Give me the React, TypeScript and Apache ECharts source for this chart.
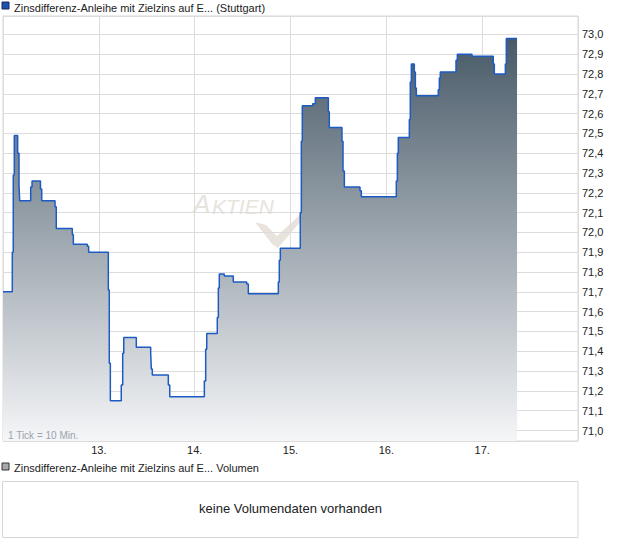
import React, { useEffect, useRef } from 'react';
import * as echarts from 'echarts';

const titleText = 'Zinsdifferenz-Anleihe mit Zielzins auf E... (Stuttgart)';
const volumeTitle = 'Zinsdifferenz-Anleihe mit Zielzins auf E... Volumen';
const noVolumeText = 'keine Volumendaten vorhanden';
const tickNote = '1 Tick = 10 Min.';
const watermarkBig = 'A';
const watermarkSmall = 'KTIEN';

// x position in days (13 = start of the 13th), price in %
const times = [
  12.0, 12.097, 12.107, 12.118, 12.153, 12.167, 12.174, 12.289, 12.303, 12.391,
  12.404, 12.543, 12.556, 12.723, 12.734, 12.88, 12.894, 13.099, 13.109, 13.12,
  13.234, 13.249, 13.26, 13.391, 13.541, 13.548, 13.558, 13.725, 13.74, 14.101,
  14.115, 14.126, 14.236, 14.247, 14.257, 14.309, 14.403, 14.543, 14.56, 14.873,
  14.883, 14.894, 15.102, 15.113, 15.123, 15.232, 15.259, 15.395, 15.405, 15.537,
  15.548, 15.562, 15.725, 15.739, 16.104, 16.115, 16.125, 16.24, 16.25, 16.261,
  16.292, 16.303, 16.313, 16.542, 16.553, 16.563, 16.727, 16.741, 16.873, 16.894,
  17.116, 17.127, 17.242, 17.252, 17.364,
];
const prices = [
  71.70, 71.90, 72.29, 72.49, 72.40, 72.24, 72.16, 72.23, 72.26, 72.22,
  72.16, 72.13, 72.02, 71.99, 71.94, 71.93, 71.90, 71.71, 71.34, 71.15,
  71.23, 71.39, 71.47, 71.42, 71.39, 71.31, 71.28, 71.23, 71.17, 71.25,
  71.41, 71.49, 71.57, 71.72, 71.79, 71.78, 71.75, 71.74, 71.69, 71.75,
  71.86, 71.92, 72.10, 72.46, 72.64, 72.65, 72.68, 72.61, 72.53, 72.46,
  72.31, 72.23, 72.21, 72.18, 72.26, 72.40, 72.48, 72.57, 72.76, 72.85,
  72.81, 72.73, 72.69, 72.72, 72.78, 72.81, 72.87, 72.90, 72.90, 72.89,
  72.85, 72.80, 72.85, 72.98, 72.98,
];
const dayLabels = [13, 14, 15, 16, 17];
const xMin = 12;
const xMax = 18;
const yMin = 70.947;
const yMax = 73.093;

const FONT = '"Liberation Sans", Arial, sans-serif';

export default function App() {
  const ref = useRef<HTMLDivElement>(null);
  useEffect(() => {
    if (!ref.current) return;
    const chart = echarts.init(ref.current, undefined, { renderer: 'svg' });
    const option: any = {
      animation: false,
      backgroundColor: '#ffffff',
      textStyle: { fontFamily: FONT },
      grid: {
        left: 3,
        top: 16,
        width: 575,
        height: 425,
        show: true,
        borderColor: '#d6d6d6',
        borderWidth: 1,
        backgroundColor: 'transparent',
      },
      xAxis: {
        type: 'value',
        min: xMin,
        max: xMax,
        interval: 1,
        axisLine: { show: false },
        axisTick: { show: false },
        splitLine: { show: true, lineStyle: { color: '#dcdcdc', width: 1 } },
        axisLabel: {
          margin: 3,
          fontSize: 11,
          color: '#222',
          fontFamily: FONT,
          formatter: (v: number) => (dayLabels.includes(v) ? `${v}.` : ''),
        },
      },
      yAxis: {
        type: 'value',
        position: 'right',
        min: yMin,
        max: yMax,
        splitNumber: 21,
        scale: true,
        axisLine: { show: false },
        axisTick: { show: false },
        splitLine: { show: true, lineStyle: { color: '#dcdcdc', width: 1 } },
        axisLabel: {
          margin: 4,
          fontSize: 11,
          color: '#222',
          fontFamily: FONT,
          showMinLabel: false,
          showMaxLabel: false,
          formatter: (v: number) => {
            const r = Math.round(v * 10) / 10;
            return Math.abs(v - r) < 1e-6 ? r.toFixed(1).replace('.', ',') : '';
          },
        },
      },
      series: [
        {
          type: 'line',
          name: titleText,
          step: 'end',
          symbol: 'none',
          showSymbol: false,
          z: 3,
          data: times.map((t, i) => [t, prices[i]]),
          lineStyle: { color: '#1d5bc4', width: 1.5 },
          areaStyle: {
            opacity: 1,
            color: new echarts.graphic.LinearGradient(0, 0, 0, 1, [
              { offset: 0, color: '#485a68' },
              { offset: 1, color: '#f5f6f8' },
            ]),
          },
        },
      ],
      graphic: [
        // watermark
        {
          type: 'text',
          z: 0,
          x: 193,
          y: 204,
          style: {
            text: watermarkBig,
            font: `italic 26px ${FONT}`,
            fill: '#e8e3dd',
            verticalAlign: 'middle',
          },
        },
        {
          type: 'text',
          z: 0,
          x: 212,
          y: 206,
          style: {
            text: watermarkSmall,
            font: `italic 21px ${FONT}`,
            fill: '#e8e3dd',
            verticalAlign: 'middle',
          },
        },
        {
          type: 'polygon',
          z: 0,
          shape: {
            points: [
              [255, 222],
              [266, 225],
              [277, 236],
              [301, 214],
              [301, 221],
              [278, 248],
              [272, 244],
            ],
          },
          style: { fill: '#e8e3dd' },
        },
        // tick note
        {
          type: 'text',
          z: 10,
          x: 8,
          y: 435,
          style: {
            text: tickNote,
            font: `10px ${FONT}`,
            fill: '#9aa3ad',
            verticalAlign: 'middle',
          },
        },
        // top legend
        {
          type: 'rect',
          x: 2,
          y: 2,
          shape: { width: 7, height: 7 },
          style: { fill: '#1f4fb0', stroke: '#1b2d5a', lineWidth: 1 },
        },
        {
          type: 'text',
          x: 14,
          y: 7.5,
          style: {
            text: titleText,
            font: `11px ${FONT}`,
            fill: '#222',
            verticalAlign: 'middle',
          },
        },
        // volume legend
        {
          type: 'rect',
          x: 2,
          y: 463,
          shape: { width: 7, height: 7 },
          style: { fill: '#a8a8a8', stroke: '#333', lineWidth: 1 },
        },
        {
          type: 'text',
          x: 14,
          y: 467.5,
          style: {
            text: volumeTitle,
            font: `11px ${FONT}`,
            fill: '#222',
            verticalAlign: 'middle',
          },
        },
        // volume panel
        {
          type: 'rect',
          x: 2.5,
          y: 481.5,
          shape: { width: 575.5, height: 56 },
          style: { fill: '#fff', stroke: '#d6d6d6', lineWidth: 1 },
        },
        {
          type: 'text',
          x: 290.5,
          y: 508,
          style: {
            text: noVolumeText,
            font: `13px ${FONT}`,
            fill: '#222',
            align: 'center',
            verticalAlign: 'middle',
          },
        },
      ],
    };
    chart.setOption(option);
    return () => chart.dispose();
  }, []);
  return (
    <div
      ref={ref}
      style={{ position: 'fixed', left: 0, top: 0, width: 620, height: 546, background: '#fff' }}
    />
  );
}
